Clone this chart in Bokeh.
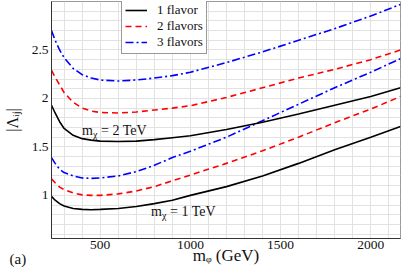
import numpy as np
from bokeh.plotting import figure
from bokeh.models import FixedTicker, Legend, LegendItem, Range1d
from bokeh.core.properties import value
from bokeh.embed import file_html
from bokeh.resources import INLINE

# ---------------- data ----------------
m_phi = [230, 250, 275, 300, 350, 400, 450, 500, 600, 700, 800, 900, 1000,
         1200, 1400, 1600, 1800, 2000, 2165]

# m_chi = 1 TeV
flav1_1tev = [0.99, 0.95, 0.915, 0.89, 0.865, 0.855, 0.852, 0.855, 0.865, 0.885,
              0.915, 0.95, 1.00, 1.09, 1.20, 1.33, 1.47, 1.60, 1.71]
flav2_1tev = [1.17, 1.13, 1.085, 1.06, 1.025, 1.005, 1.0, 1.0, 1.015, 1.045,
              1.09, 1.15, 1.21, 1.33, 1.46, 1.60, 1.75, 1.89, 2.02]
flav3_1tev = [1.39, 1.33, 1.27, 1.235, 1.20, 1.18, 1.175, 1.18, 1.20, 1.245,
              1.31, 1.39, 1.455, 1.60, 1.77, 1.94, 2.11, 2.27, 2.41]
# m_chi = 2 TeV
flav1_2tev = [1.93, 1.85, 1.76, 1.69, 1.62, 1.585, 1.57, 1.56, 1.555, 1.56,
              1.575, 1.595, 1.615, 1.68, 1.755, 1.84, 1.93, 2.02, 2.11]
flav2_2tev = [2.29, 2.22, 2.14, 2.06, 1.96, 1.90, 1.87, 1.855, 1.85, 1.86,
              1.88, 1.90, 1.925, 2.01, 2.11, 2.21, 2.30, 2.40, 2.50]
flav3_2tev = [2.70, 2.60, 2.50, 2.42, 2.31, 2.245, 2.21, 2.19, 2.18, 2.19,
              2.21, 2.235, 2.27, 2.37, 2.48, 2.60, 2.72, 2.85, 2.97]

legend_labels = ["1 flavor", "2 flavors", "3 flavors"]

x_ticks = [500, 1000, 1500, 2000]
x_tick_labels = ["500", "1000", "1500", "2000"]
x_minor = [300, 400, 600, 700, 800, 900, 1100, 1200, 1300, 1400, 1600, 1700,
           1800, 1900, 2100]
y_ticks = [1, 1.5, 2, 2.5]
y_tick_labels = ["1", "1.5", "2", "2.5"]
y_minor = [0.6, 0.7, 0.8, 0.9, 1.1, 1.2, 1.3, 1.4, 1.6, 1.7, 1.8, 1.9, 2.1, 2.2,
           2.3, 2.4, 2.6, 2.7, 2.8, 2.9]

x_title = "mᵩ (GeV)"
y_title = "|Λᵢⱼ|"
panel_tag = "(a)"

X0, X1 = 230, 2165
Y0, Y1 = 0.555, 3.0

# layout (pixels)
W, H = 403, 279
BL, BR, BT, BB = 46, 3, 1, 41
FW, FH = W - BL - BR, H - BT - BB

def px2x(px):
    return X0 + (px - BL) * (X1 - X0) / FW

def py2y(py):
    return Y1 - (py - BT) * (Y1 - Y0) / FH

FONT = "Liberation Serif"
TXT = "#111111"

p = figure(width=W, height=H, output_backend="svg", toolbar_location=None,
           x_range=Range1d(X0, X1), y_range=Range1d(Y0, Y1),
           title=panel_tag, title_location="below",
           min_border_left=BL, min_border_right=BR, min_border_top=BT,
           min_border_bottom=BB)
p.background_fill_color = "white"
p.border_fill_color = "white"
p.outline_line_color = "#9a9a9a"
p.outline_line_width = 1

# panel tag "(a)" placed bottom-left through the title
p.title.align = "left"
p.title.vertical_align = "top"
p.title.offset = -42
p.title.standoff = -33
p.title.text_font = FONT
p.title.text_font_size = "15px"
p.title.text_font_style = "normal"
p.title.text_color = TXT

p.xaxis.ticker = FixedTicker(ticks=x_ticks, minor_ticks=x_minor)
p.yaxis.ticker = FixedTicker(ticks=y_ticks, minor_ticks=y_minor)
p.xaxis.major_label_overrides = {t: l for t, l in zip(x_ticks, x_tick_labels)}
p.yaxis.major_label_overrides = {t: l for t, l in zip(y_ticks, y_tick_labels)}
for ax in (p.xaxis, p.yaxis):
    ax.major_tick_line_color = None
    ax.minor_tick_line_color = None
    ax.major_tick_out = 0
    ax.major_tick_in = 0
    ax.minor_tick_out = 0
    ax.minor_tick_in = 0
    ax.axis_line_color = "#333333"
    ax.axis_line_width = 1
    ax.major_label_text_font = FONT
    ax.major_label_text_font_size = "13.5px"
    ax.major_label_text_color = TXT
    ax.axis_label_text_font = FONT
    ax.axis_label_text_font_style = "normal"
    ax.axis_label_text_color = TXT
p.xaxis.major_label_standoff = 2
p.yaxis.major_label_standoff = 3
p.xaxis.axis_label = x_title
p.xaxis.axis_label_text_font_size = "17px"
p.xaxis.axis_label_standoff = -6
p.yaxis.axis_label = y_title
p.yaxis.axis_label_text_font_size = "16px"
p.yaxis.axis_label_standoff = 8

for g in (p.xgrid, p.ygrid):
    g.grid_line_color = "#e2e2e2"
    g.grid_line_width = 1
    g.minor_grid_line_color = "#e2e2e2"
    g.minor_grid_line_width = 1

LW = 1.6
r1a = p.line(m_phi, flav1_1tev, line_color="black", line_width=LW)
r2a = p.line(m_phi, flav2_1tev, line_color="#ff0000", line_width=LW, line_dash="6 4")
r3a = p.line(m_phi, flav3_1tev, line_color="#0000ff", line_width=LW, line_dash="8 3 2 3")
r1b = p.line(m_phi, flav1_2tev, line_color="black", line_width=LW)
r2b = p.line(m_phi, flav2_2tev, line_color="#ff0000", line_width=LW, line_dash="6 4")
r3b = p.line(m_phi, flav3_2tev, line_color="#0000ff", line_width=LW, line_dash="8 3 2 3")

legend = Legend(items=[LegendItem(label=legend_labels[0], renderers=[r1b]),
                       LegendItem(label=legend_labels[1], renderers=[r2b]),
                       LegendItem(label=legend_labels[2], renderers=[r3b])],
                location=(70, 184))
legend.label_text_font = FONT
legend.label_text_font_size = "13px"
legend.label_text_color = TXT
legend.glyph_width = 22
legend.glyph_height = 12
legend.label_height = 12
legend.label_standoff = 10
legend.padding = 3
legend.spacing = 0
legend.margin = 0
legend.border_line_color = "#333333"
legend.border_line_width = 1
legend.background_fill_alpha = 1
p.add_layout(legend)

# in-plot annotations: m_chi = 2 TeV / 1 TeV
mchi2_pos = (px2x(77), py2y(130))
mchi1_pos = (px2x(147), py2y(211))

def mchi_text(pos, txt):
    x, y = pos
    p.text([x], [y], text=["m"], text_font=value(FONT), text_font_size="14px",
           text_baseline="alphabetic", text_align="left", text_color=TXT)
    p.text([x], [y], text=["χ"], text_font=value(FONT), text_font_size="10px",
           text_baseline="alphabetic", text_align="left", x_offset=11, y_offset=4,
           text_color=TXT)
    p.text([x], [y], text=[txt], text_font=value(FONT), text_font_size="14px",
           text_baseline="alphabetic", text_align="left", x_offset=19,
           text_color=TXT)

mchi_text(mchi2_pos, "= 2 TeV")
mchi_text(mchi1_pos, "= 1 TeV")

open("out.html", "w").write(file_html(p, INLINE))
